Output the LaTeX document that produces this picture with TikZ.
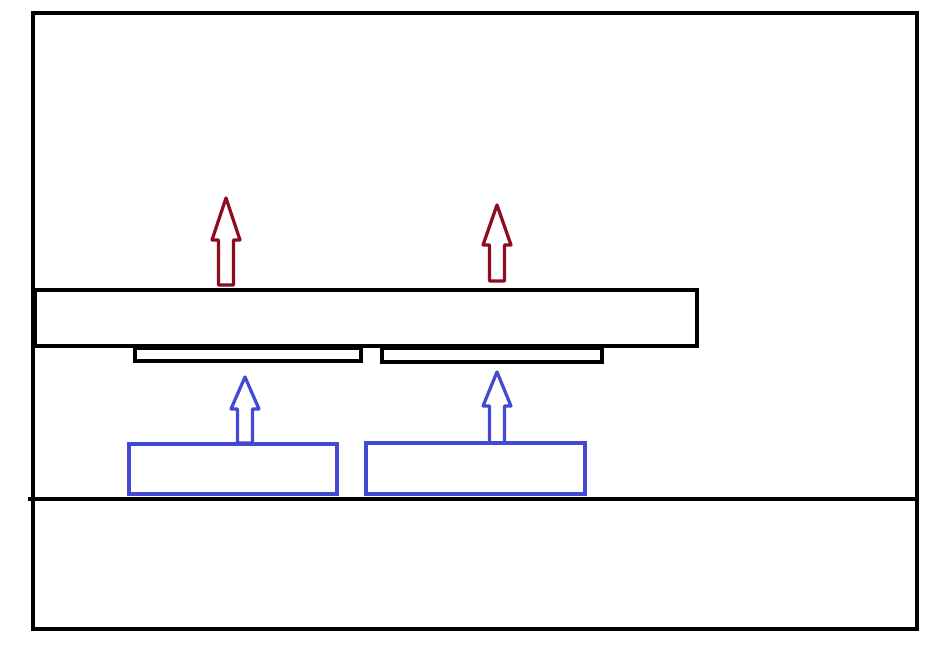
\documentclass[tikz,border=0pt]{standalone}
\definecolor{liftred}{HTML}{8E0B20}
\definecolor{liftblue}{HTML}{4249D2}

% hollow arrow pointing up: x-centre, tip y, head base y, foot y, colour
\newcommand{\liftarrow}[5]{%
  \draw[#5, line width=0.065cm, line join=round]
    (#1-7.5,#4) -- (#1-7.5,#3) -- (#1-14,#3) -- (#1,#2)
    -- (#1+14,#3) -- (#1+7.5,#3) -- (#1+7.5,#4) -- cycle;}

\begin{document}
\begin{tikzpicture}[x=0.02cm, y=-0.02cm]
  \tikzset{
    wall/.style={draw=black, line width=0.085cm},
    plate/.style={draw=black, line width=0.065cm},
    pad/.style={draw=liftblue, line width=0.075cm}
  }

  % Rahmen und Boden
  \useasboundingbox (0,0) rectangle (933,651);
  \draw[wall] (33,13) rectangle (917,629);
  \draw[wall] (28,499) -- (917,499);

  % Balken mit den zwei Platten
  \draw[wall] (35,290) rectangle (697,346);
  \draw[plate] (135,348) rectangle (361,361);
  \draw[plate] (382,348) rectangle (602,362);

  % blaue Kloetze
  \draw[pad] (129,444) rectangle (337,494);
  \draw[pad] (366,443) rectangle (585,494);

  % Pfeile
  \liftarrow{245}{377}{409}{443}{liftblue}
  \liftarrow{497}{372}{406}{443}{liftblue}
  \liftarrow{226}{198}{240}{285}{liftred}
  \liftarrow{497}{205}{245}{281}{liftred}
\end{tikzpicture}
\end{document}
